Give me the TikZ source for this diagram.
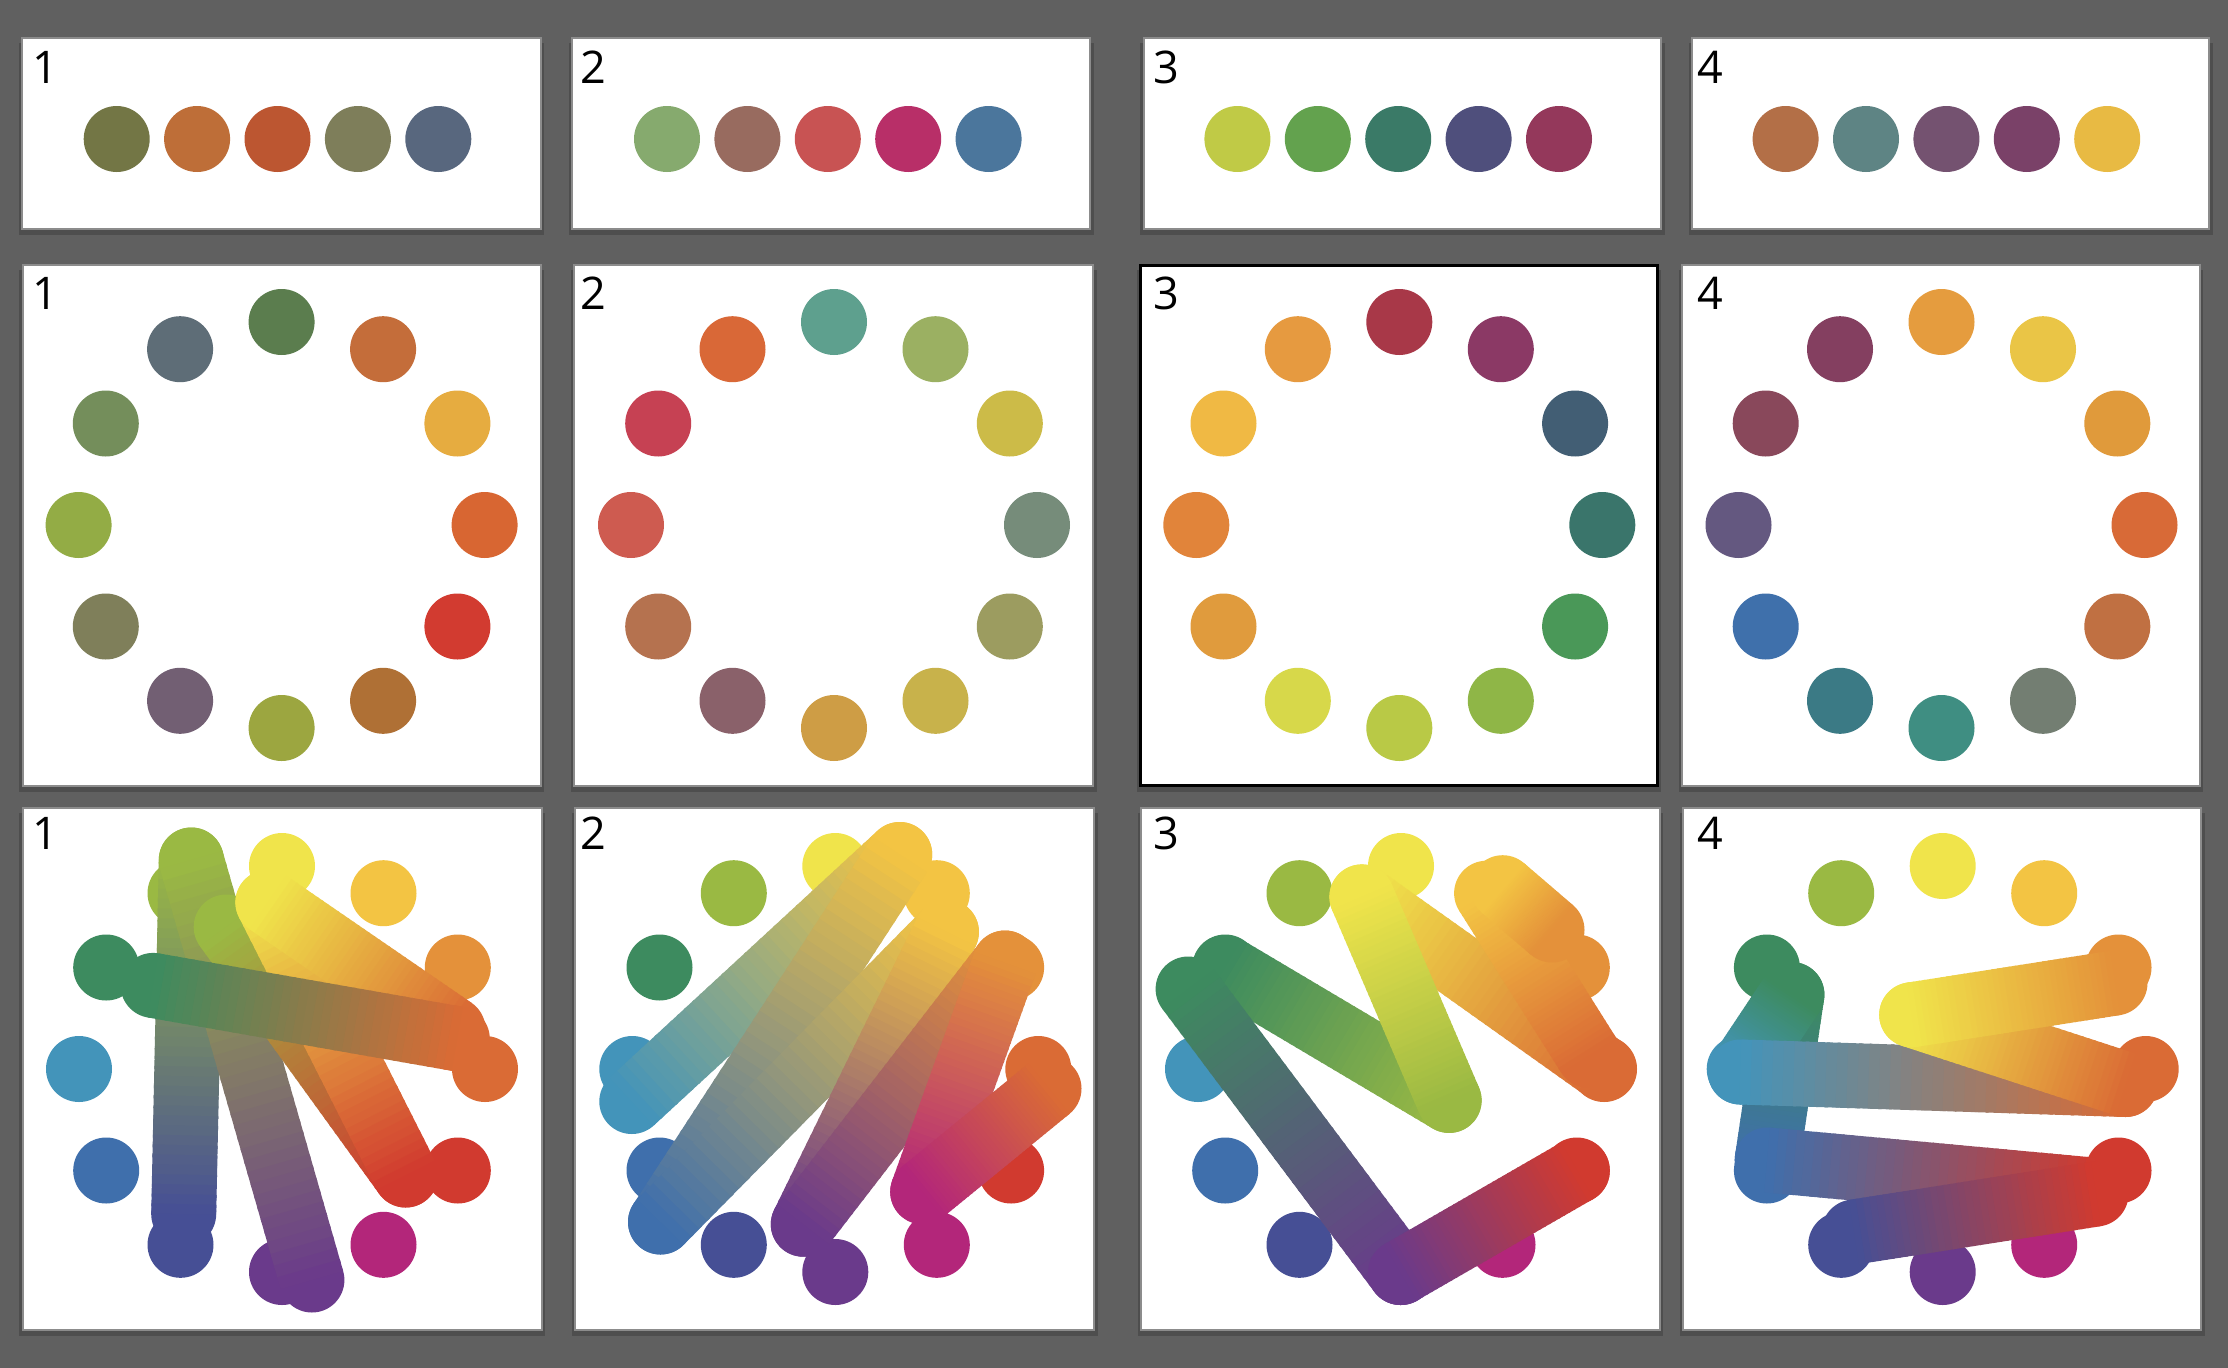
\documentclass[tikz,border=0pt]{standalone}
\usepackage{fontspec}
\setsansfont{Open Sans}
\usetikzlibrary{calc}
\definecolor{bg}{HTML}{606060}
\definecolor{pborder}{HTML}{8C8C8C}
\definecolor{pshadow}{HTML}{4E4E4E}
% top row
\definecolor{ta1}{HTML}{737645}\definecolor{ta2}{HTML}{BE6E38}\definecolor{ta3}{HTML}{BC5631}\definecolor{ta4}{HTML}{7E7E5A}\definecolor{ta5}{HTML}{58677E}
\definecolor{tb1}{HTML}{86AA6E}\definecolor{tb2}{HTML}{986B5F}\definecolor{tb3}{HTML}{C85353}\definecolor{tb4}{HTML}{B82F68}\definecolor{tb5}{HTML}{4B769C}
\definecolor{tc1}{HTML}{C0CA46}\definecolor{tc2}{HTML}{63A24E}\definecolor{tc3}{HTML}{3A7A67}\definecolor{tc4}{HTML}{4F4F7C}\definecolor{tc5}{HTML}{94385B}
\definecolor{td1}{HTML}{B36F47}\definecolor{td2}{HTML}{5E8484}\definecolor{td3}{HTML}{745270}\definecolor{td4}{HTML}{7A4168}\definecolor{td5}{HTML}{E8BA43}
% middle row
\definecolor{ma1}{HTML}{5B7D4E}\definecolor{ma2}{HTML}{C46D3A}\definecolor{ma3}{HTML}{E6AC40}\definecolor{ma4}{HTML}{D86632}
\definecolor{ma5}{HTML}{D23B30}\definecolor{ma6}{HTML}{AF7035}\definecolor{ma7}{HTML}{9CA640}\definecolor{ma8}{HTML}{725F73}
\definecolor{ma9}{HTML}{7F7F5A}\definecolor{ma10}{HTML}{93AC45}\definecolor{ma11}{HTML}{748E5B}\definecolor{ma12}{HTML}{5E6D77}
\definecolor{mb1}{HTML}{5EA08E}\definecolor{mb2}{HTML}{9BB062}\definecolor{mb3}{HTML}{CCBB48}\definecolor{mb4}{HTML}{768C7A}
\definecolor{mb5}{HTML}{9C9C60}\definecolor{mb6}{HTML}{C8B24B}\definecolor{mb7}{HTML}{CE9D45}\definecolor{mb8}{HTML}{8A616A}
\definecolor{mb9}{HTML}{B5724F}\definecolor{mb10}{HTML}{CE5B50}\definecolor{mb11}{HTML}{C64153}\definecolor{mb12}{HTML}{D96837}
\definecolor{mc1}{HTML}{A83848}\definecolor{mc2}{HTML}{8B3965}\definecolor{mc3}{HTML}{425E74}\definecolor{mc4}{HTML}{3A756B}
\definecolor{mc5}{HTML}{4A9858}\definecolor{mc6}{HTML}{8FB647}\definecolor{mc7}{HTML}{B9C946}\definecolor{mc8}{HTML}{D7D84A}
\definecolor{mc9}{HTML}{E09B3D}\definecolor{mc10}{HTML}{E1843A}\definecolor{mc11}{HTML}{F0B944}\definecolor{mc12}{HTML}{E69A40}
\definecolor{md1}{HTML}{E59C3E}\definecolor{md2}{HTML}{EAC546}\definecolor{md3}{HTML}{E09A3B}\definecolor{md4}{HTML}{D86A37}
\definecolor{md5}{HTML}{C07042}\definecolor{md6}{HTML}{737E72}\definecolor{md7}{HTML}{3F8E82}\definecolor{md8}{HTML}{3B7A85}
\definecolor{md9}{HTML}{3F70AB}\definecolor{md10}{HTML}{645880}\definecolor{md11}{HTML}{89485B}\definecolor{md12}{HTML}{843F60}
% hue wheel
\definecolor{hY}{HTML}{F0E44B}\definecolor{hYO}{HTML}{F3C443}\definecolor{hO}{HTML}{E4913A}\definecolor{hOR}{HTML}{DA6B35}
\definecolor{hR}{HTML}{D13A2F}\definecolor{hM}{HTML}{B3267A}\definecolor{hP}{HTML}{6A3A8B}\definecolor{hI}{HTML}{464F95}
\definecolor{hB}{HTML}{3F6FAC}\definecolor{hC}{HTML}{4394BA}\definecolor{hG}{HTML}{3D8B5F}\definecolor{hYG}{HTML}{9AB943}

\tikzset{
  dot/.style={circle, minimum size=66pt, inner sep=0pt, draw=none},
  lbl/.style={anchor=base, inner sep=0pt, text=black, font=\sffamily\fontsize{45}{45}\selectfont},
}
\newcommand\mypanel[5]{%
  \fill[pshadow] ({#1-2.5},{#2+6}) rectangle ({#3+2.7},{#4+5});
  \filldraw[fill=white, draw=#5, line width=2pt] ({#1+1},{#2+1}) rectangle ({#3-1},{#4-1});
}
\newcommand\midring[3]{% cx, prefix, colour prefix
  \foreach \a [count=\i] in {90,60,30,0,-30,-60,-90,-120,-150,180,150,120}
    \node[dot, fill=#3\i] (#2-\i) at ({#1+203*cos(\a)},{525-203*sin(\a)}) {};
}
\newcommand\huering[2]{%
  \foreach \a/\c [count=\i] in {90/hY,60/hYO,30/hO,0/hOR,-30/hR,-60/hM,-90/hP,-120/hI,-150/hB,180/hC,150/hG,120/hYG}
    \node[dot, fill=\c] (#2-\i) at ({#1+203*cos(\a)},{1069-203*sin(\a)}) {};
}
\newcommand\toprow[3]{% x of first dot, prefix, colour prefix
  \foreach \i in {1,...,5}
    \node[dot, fill=#3\i] (#2-\i) at ({#1+80.4*(\i-1)},139) {};
}
\newcommand\gstroke[4]{%
  \fill[#3] (#1) circle[radius=32.5pt];
  \fill[#4] (#2) circle[radius=32.5pt];
  \foreach \k in {0,...,35}{%
    \pgfmathsetmacro\tA{\k/36}%
    \pgfmathsetmacro\tB{min(1,(\k+1.3)/36)}%
    \pgfmathtruncatemacro\mixp{round(100-(\k+0.5)*100/36)}%
    \draw[line width=65pt, #3!\mixp!#4] ($(#1)!\tA!(#2)$) -- ($(#1)!\tB!(#2)$);
  }%
}

\begin{document}
\begin{tikzpicture}[x=1pt,y=-1pt]
\fill[bg] (0,0) rectangle (2228,1368);
\useasboundingbox (0,0) rectangle (2228,1368);

% ---------- top row ----------
\mypanel{21}{37.3}{541.5}{230}{pborder}
\mypanel{571.4}{37.3}{1091}{230}{pborder}
\mypanel{1142.9}{37.3}{1661.8}{230}{pborder}
\mypanel{1691.3}{37.3}{2210.3}{230}{pborder}
\toprow{116.7}{ta}{ta}
\toprow{667}{tb}{tb}
\toprow{1237.4}{tc}{tc}
\toprow{1785.6}{td}{td}
\node[lbl] (lt1) at (45,83) {1};
\node[lbl] (lt2) at (593,83) {2};
\node[lbl] (lt3) at (1166,83) {3};
\node[lbl] (lt4) at (1710,83) {4};

% ---------- middle row ----------
\mypanel{21.8}{264}{541.5}{787}{pborder}
\mypanel{573.3}{264}{1093.8}{787}{pborder}
\fill[pshadow] ({1139-2.5},{264+6}) rectangle ({1658.7+2.7},{787+5});
\filldraw[fill=white, draw=black, line width=3pt] (1140.5,265.5) rectangle (1657.2,785.5);
\mypanel{1681}{264}{2200.7}{787}{pborder}
\midring{281.6}{ma}{ma}
\midring{834}{mb}{mb}
\midring{1399.3}{mc}{mc}
\midring{1941.5}{md}{md}
\node[lbl] (lm1) at (45,309.6) {1};
\node[lbl] (lm2) at (593,309.6) {2};
\node[lbl] (lm3) at (1166,309.6) {3};
\node[lbl] (lm4) at (1710,309.6) {4};

% ---------- bottom row ----------
\mypanel{21.8}{807.3}{542.7}{1331}{pborder}
\mypanel{574.4}{807.3}{1095}{1331}{pborder}
\mypanel{1140}{807.3}{1660.7}{1331}{pborder}
\mypanel{1682}{807.3}{2202}{1331}{pborder}
\huering{282}{ba}
\huering{835.3}{bb}
\huering{1401}{bc}
\huering{1942.7}{bd}
\node[lbl] (lb1) at (45,849) {1};
\node[lbl] (lb2) at (593,849) {2};
\node[lbl] (lb3) at (1166,849) {3};
\node[lbl] (lb4) at (1710,849) {4};

% panel 1 strokes
\coordinate (c1a) at (191.3,860);
\coordinate (c1b) at (183.7,1214);
\coordinate (c1c) at (311.9,1280);
\coordinate (c1d) at (226.2,927);
\coordinate (c1e) at (405.7,1175);
\coordinate (c1f) at (267.9,902.4);
\coordinate (c1g) at (453.1,1029.6);
\coordinate (c1h) at (153.1,985.4);
\coordinate (c1i) at (457.3,1038.8);
\gstroke{c1a}{c1b}{hYG}{hI}
\gstroke{c1a}{c1c}{hYG}{hP}
\gstroke{c1d}{c1e}{hYG}{hR}
\gstroke{c1f}{c1e}{hY}{hR}
\gstroke{c1f}{c1g}{hY}{hOR}
\gstroke{c1h}{c1i}{hG}{hOR}

% panel 2 strokes
\coordinate (c2a) at (631.8,1101.5);
\coordinate (c2b) at (899.7,854.5);
\coordinate (c2c) at (660.5,1222);
\coordinate (c2d) at (946.4,931.9);
\coordinate (c2e) at (803.3,1224.2);
\coordinate (c2f) at (1005,963);
\coordinate (c2g) at (922.7,1191.8);
\coordinate (c2h) at (1049,1088.6);
\gstroke{c2a}{c2b}{hC}{hYO}
\gstroke{c2c}{c2b}{hB}{hYO}
\gstroke{c2c}{c2d}{hB}{hYO}
\gstroke{c2e}{c2d}{hP}{hYO}
\gstroke{c2e}{c2f}{hP}{hO}
\gstroke{c2g}{c2f}{hM}{hO}
\gstroke{c2g}{c2h}{hM}{hOR}

% panel 3 strokes
\coordinate (c3a) at (1188.1,989);
\coordinate (c3b) at (1400.5,1272.5);
\coordinate (c3c) at (1225.2,967.5);
\coordinate (c3d) at (1449.1,1100.4);
\coordinate (c3e) at (1361.9,896.9);
\coordinate (c3f) at (1604.1,1069);
\coordinate (c3g) at (1486.6,893.2);
\coordinate (c3h) at (1588.8,1055.4);
\coordinate (c3i) at (1502.7,887.7);
\coordinate (c3j) at (1552,930);
\coordinate (c3k) at (1577.3,1170.6);
\gstroke{c3e}{c3f}{hY}{hOR}
\gstroke{c3g}{c3h}{hYO}{hOR}
\gstroke{c3i}{c3j}{hYO}{hO}
\gstroke{c3c}{c3d}{hG}{hYG}
\gstroke{c3e}{c3d}{hY}{hYG}
\gstroke{c3a}{c3b}{hG}{hP}
\gstroke{c3b}{c3k}{hP}{hR}

% panel 4 strokes
\coordinate (c4a) at (1791.9,994.6);
\coordinate (c4b) at (1767.2,1160);
\coordinate (c4c) at (1740.3,1072);
\coordinate (c4d) at (2125.5,1084.5);
\coordinate (c4e) at (1911.7,1014.8);
\coordinate (c4f) at (2115,983);
\coordinate (c4g) at (2092.3,1190);
\coordinate (c4h) at (1854,1232);
\coordinate (c4i) at (2096,1194);
\gstroke{c4a}{c4b}{hG}{hB}
\gstroke{c4a}{c4c}{hG}{hC}
\gstroke{c4c}{c4d}{hC}{hOR}
\gstroke{c4e}{c4d}{hY}{hOR}
\gstroke{c4e}{c4f}{hY}{hO}
\gstroke{c4b}{c4g}{hB}{hR}
\gstroke{c4h}{c4i}{hI}{hR}
\end{tikzpicture}
\end{document}
